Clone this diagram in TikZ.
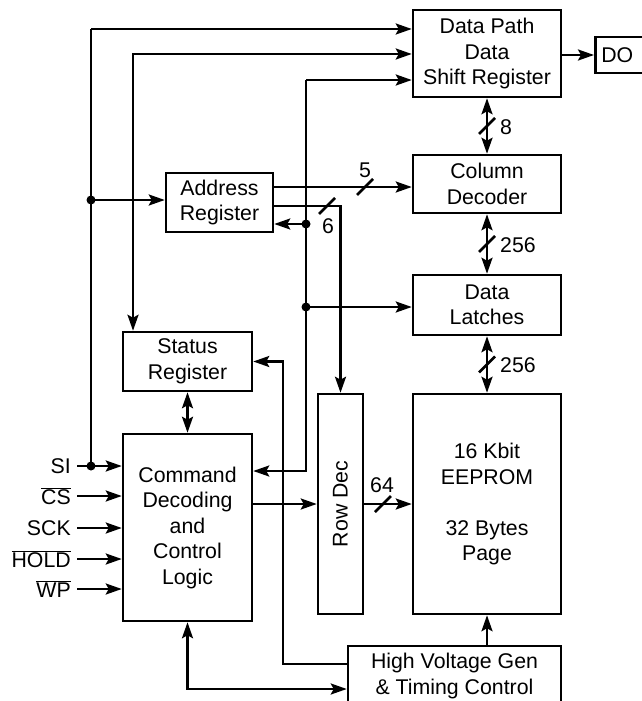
\documentclass[tikz,border=0pt]{standalone}
\usepackage{fontspec}
\setmainfont{Liberation Sans}
\usepackage{graphicx}
\usepackage{tikz}
\usetikzlibrary{positioning, arrows.meta}

\newcommand{\ovl}[1]{$\overline{\mbox{#1}}$}

\begin{document}
\begin{tikzpicture}[
        x=1pt, y=-1pt,
        line width=2.5pt,
        % Define standard block style
        block/.style={
            draw,
            inner sep=0pt,
            align=center,
            font=\fontsize{21.3pt}{25.5pt}\selectfont
        },
        sig/.style={anchor=east, inner ysep=0pt, inner xsep=5pt,
            font=\fontsize{21.3pt}{25.5pt}\selectfont},
        lbl/.style={inner sep=0pt, font=\fontsize{21.3pt}{25.5pt}\selectfont},
        arr/.style={-{Stealth[length=16pt, width=11pt, inset=3pt]}},
        biarr/.style={{Stealth[length=16pt, width=11pt, inset=3pt]}-{Stealth[length=16pt, width=11pt, inset=3pt]}},
        dot/.style={circle, fill, inner sep=0pt, minimum size=9pt}
    ]

    \useasboundingbox (0,0) rectangle (641,701);

    % ==========================================
    % RIGHT COLUMN
    % ==========================================
    \node[block, minimum width=148pt, minimum height=87pt] (dpath) at (487,53.5) {Data Path\\Data\\Shift Register};
    \node[block, anchor=west, minimum height=36pt, text width=60pt, inner xsep=6pt, align=left] (dout) at (594,55) {DO};
    \node[block, minimum width=148pt, minimum height=58pt] (coldec) at (487,184) {Column\\Decoder};
    \node[block, minimum width=148pt, minimum height=60pt] (latches) at (487,305) {Data\\Latches};
    \node[block, minimum width=148pt, minimum height=220pt] (eeprom) at (487,504) {16 Kbit\\EEPROM\\[25.5pt]32 Bytes\\Page};
    \node[block, minimum width=213pt, minimum height=60pt] (hv) at (454.5,676) {High Voltage Gen\\\& Timing Control};

    % ==========================================
    % LEFT AND MIDDLE BLOCKS
    % ==========================================
    \node[block, minimum width=45pt, minimum height=220pt] (rowdec) at (340.5,504) {\rotatebox{90}{Row Dec}};
    \node[block, minimum width=129pt, minimum height=187pt] (cmd) at (187.5,527.5) {Command\\Decoding\\and\\Control\\Logic};
    \node[block, minimum width=129pt, minimum height=59pt] (status) at (187.5,361.5) {Status\\Register};
    \node[block, minimum width=107pt, minimum height=59pt] (addr) at (219.5,202.5) {Address\\Register};

    % Pins
    \node[sig] (si) at (77,466) {SI};
    \node[sig] (cs) at (77,496) {\ovl{CS}};
    \node[sig] (sck) at (77,528) {SCK};
    \node[sig] (hold) at (77,559) {\ovl{HOLD}};
    \node[sig] (wp) at (77,589) {\ovl{WP}};

    % Junctions and corners
    \coordinate (siJ) at (91,466);
    \coordinate (arJ) at (91,200);
    \coordinate (laneA) at (91,29);
    \coordinate (laneB) at (133,54);
    \coordinate (laneC) at (306,80);
    \coordinate (adJ) at (306,224);
    \coordinate (ltJ) at (306,307);
    \coordinate (cmJ) at (306,471);
    \coordinate (rdC) at (340.5,206);
    \coordinate (hvC) at (283,664);
    \coordinate (cmC) at (187.5,689);

    % Bus marks
    \coordinate (m5) at (365,187);
    \coordinate (m6) at (327,206);
    \coordinate (m8) at (487,126);
    \coordinate (m256a) at (487,244);
    \coordinate (m256b) at (487,364.5);
    \coordinate (m64) at (383,504);

    % ==========================================
    % CONNECTIONS
    % ==========================================
    \foreach \s in {si,cs,sck,hold,wp}
        \draw[arr] (\s.east) -- (\s.east -| cmd.west);

    \draw (siJ) -- (laneA);
    \draw[arr] (laneA) -- (laneA -| dpath.west);
    \draw[arr] (arJ) -- (arJ -| addr.west);
    \draw[biarr] (laneB |- status.north) -- (laneB) -- (laneB -| dpath.west);
    \draw[arr] (laneC) -- (laneC -| dpath.west);
    \draw[arr] (laneC) -- (cmJ) -- (cmJ -| cmd.east);
    \draw[arr] (adJ) -- (adJ -| addr.east);
    \draw[arr] (ltJ) -- (ltJ -| latches.west);
    \draw[arr] (m5 -| addr.east) -- (m5 -| coldec.west);
    \draw[arr] (m6 -| addr.east) -- (rdC) -- (rowdec.north);
    \draw[biarr] (status.south) -- (cmd.north);
    \draw[arr] (hvC -| hv.west) -- (hvC) |- (status.east);
    \draw[biarr] (cmd.south) -- (cmC) -- (cmC -| hv.west);
    \draw[arr] (rowdec.west -| cmd.east) -- (rowdec.west);
    \draw[arr] (rowdec.east) -- (eeprom.west);
    \draw[arr] (eeprom.south |- hv.north) -- (eeprom.south);
    \draw[biarr] (dpath.south) -- (coldec.north);
    \draw[biarr] (coldec.south) -- (latches.north);
    \draw[biarr] (latches.south) -- (eeprom.north);
    \draw[arr] (dout.west -| dpath.east) -- (dout.west);

    % Dots
    \foreach \j in {siJ,arJ,adJ,ltJ}
        \node[dot] at (\j) {};

    % Bus widths
    \foreach \m in {m5,m6,m8,m256a,m256b,m64}
        \draw (\m) ++(-8,8) -- ++(16,-16);
    \node[lbl] (l5) at (365,170) {5};
    \node[lbl] (l6) at (328,226) {6};
    \node[lbl] (l8) at (506,127) {8};
    \node[lbl] (l256a) at (518,245) {256};
    \node[lbl] (l256b) at (518,365) {256};
    \node[lbl] (l64) at (382,485) {64};

\end{tikzpicture}
\end{document}
